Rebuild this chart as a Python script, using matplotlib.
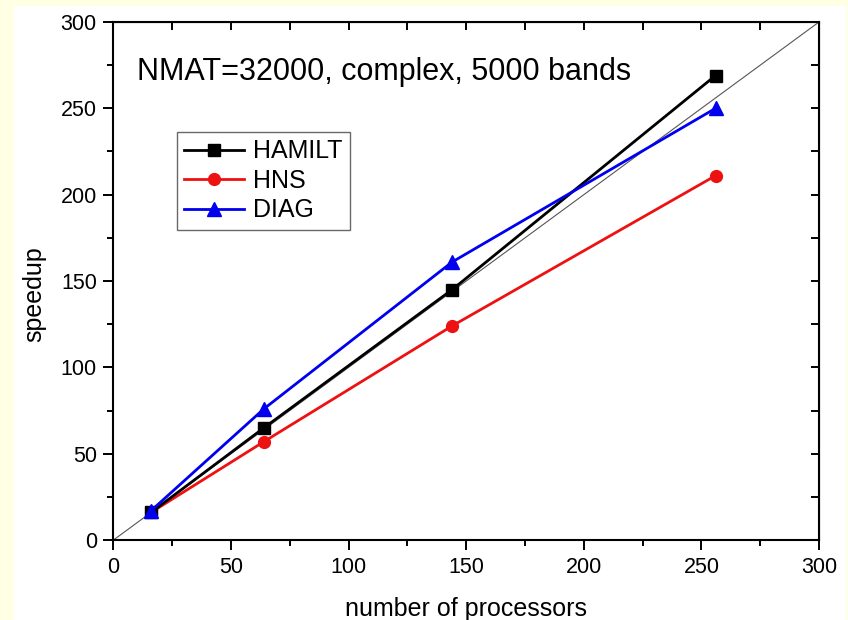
import matplotlib
matplotlib.use("Agg")
import matplotlib.pyplot as plt
from matplotlib.patches import Rectangle

plt.rcParams['font.family'] = ['Liberation Sans', 'DejaVu Sans']

processors = [16, 64, 144, 256]
hamilt = [16, 65, 145, 269]
hns = [16, 57, 124, 211]
diag = [17, 76, 161, 250]
ideal_x = [0, 300]
ideal_y = [0, 300]
title = "NMAT=32000, complex, 5000 bands"

W, H = 848, 620
fig = plt.figure(figsize=(W / 100, H / 100), dpi=100, facecolor='#FFFFE4')
fig.patches.append(Rectangle((14 / W, 0), (846 - 14) / W, (H - 6) / H,
                             transform=fig.transFigure, facecolor='white',
                             edgecolor='none', zorder=-10))

l, r, t, b = 113.5, 819, 22, 540
ax = fig.add_axes([l / W, 1 - b / H, (r - l) / W, (b - t) / H])
ax.set_zorder(5)
ax.set_facecolor('white')

ax.plot(ideal_x, ideal_y, color='#555555', lw=0.8, zorder=1)
ax.plot(processors, hamilt, color='black', lw=2.0, marker='s', ms=8, label='HAMILT', zorder=3)
ax.plot(processors, hns, color='#EE1111', lw=2.0, marker='o', ms=8.5, label='HNS', zorder=2)
ax.plot(processors, diag, color='#0000EE', lw=2.0, marker='^', ms=9.5, label='DIAG', zorder=4)

ax.set_xlim(0, 300)
ax.set_ylim(0, 300)
ax.set_xticks([0, 50, 100, 150, 200, 250, 300])
ax.set_yticks([0, 50, 100, 150, 200, 250, 300])
ax.set_xticks([25, 75, 125, 175, 225, 275], minor=True)
ax.set_yticks([25, 75, 125, 175, 225, 275], minor=True)
ax.tick_params(which='major', direction='out', length=7, width=1.4, labelsize=15.5, pad=5)
ax.tick_params(which='minor', direction='out', length=4, width=1.4)
for s in ax.spines.values():
    s.set_linewidth(1.5)

allticks = [0, 25, 50, 75, 100, 125, 150, 175, 200, 225, 250, 275, 300]
top = ax.secondary_xaxis('top')
top.set_xticks(allticks)
top.tick_params(direction='in', length=6, width=1.4, labeltop=False)
right = ax.secondary_yaxis('right')
right.set_yticks(allticks)
right.tick_params(direction='in', length=6, width=1.4, labelright=False)

ax.set_xlabel('number of processors', fontsize=18)
ax.xaxis.set_label_coords(0.5, -0.111)
ax.set_ylabel('speedup', fontsize=18)
ax.yaxis.set_label_coords(-0.0955, 0.474)

ax.text(0.0333, 0.888, title, transform=ax.transAxes, fontsize=22, va='baseline', ha='left')

leg = ax.legend(loc='upper left', bbox_to_anchor=(0.0896, 0.788), borderaxespad=0,
                fontsize=18, handlelength=2.4, handletextpad=0.35, labelspacing=0.22,
                fancybox=False, frameon=True, edgecolor='#444444', borderpad=0.3)
leg.get_frame().set_linewidth(1.0)

fig.savefig('out.png', dpi=100, facecolor=fig.get_facecolor())
